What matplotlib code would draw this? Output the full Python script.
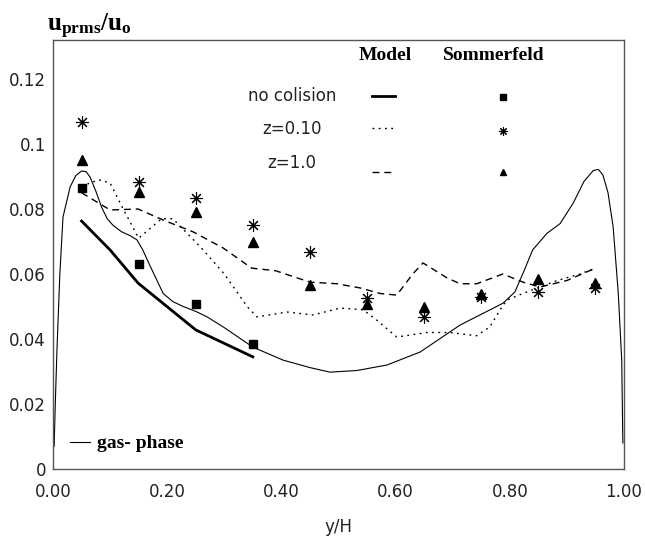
import matplotlib
matplotlib.use("Agg")
import matplotlib.pyplot as plt
from matplotlib.lines import Line2D

plt.rcParams['font.family'] = ['DejaVu Sans']
plt.rcParams['mathtext.fontset'] = 'custom'
plt.rcParams['mathtext.bf'] = 'Liberation Serif:bold'
plt.rcParams['mathtext.rm'] = 'Liberation Serif:bold'

# Sommerfeld measurements
x_meas = [0.05, 0.15, 0.25, 0.35, 0.45, 0.55, 0.65, 0.75, 0.85, 0.95]
sq_y = [0.0865, 0.063, 0.0508, 0.0385]
star_y = [0.1068, 0.0883, 0.0834, 0.075, 0.0668, 0.0526, 0.0468, 0.053, 0.0545, 0.0557]
tri_y = [0.0951, 0.0852, 0.079, 0.0698, 0.0566, 0.0508, 0.050, 0.054, 0.0585, 0.0572]

# model, no collision
nc_x = [0.05, 0.10, 0.149, 0.25, 0.35]
nc_y = [0.0763, 0.0674, 0.0572, 0.0428, 0.0345]

# model, z = 0.10
z1_x = [0.05, 0.08, 0.10, 0.12, 0.15, 0.19, 0.21, 0.26, 0.30, 0.34, 0.357, 0.41,
        0.455, 0.503, 0.543, 0.567, 0.602, 0.655, 0.695, 0.742, 0.765, 0.783,
        0.795, 0.823, 0.853, 0.883, 0.923, 0.95]
z1_y = [0.087, 0.089, 0.088, 0.081, 0.071, 0.077, 0.077, 0.068, 0.060, 0.050, 0.0468, 0.0483,
        0.0474, 0.0495, 0.049, 0.0458, 0.0406, 0.042, 0.042, 0.041, 0.0437, 0.049,
        0.052, 0.054, 0.056, 0.058, 0.060, 0.0618]

# model, z = 1.0
z2_x = [0.05, 0.10, 0.149, 0.193, 0.245, 0.298, 0.348, 0.39, 0.45, 0.497, 0.538,
        0.573, 0.602, 0.63, 0.648, 0.69, 0.713, 0.742, 0.788, 0.823, 0.853, 0.90, 0.95]
z2_y = [0.085, 0.0797, 0.080, 0.0766, 0.073, 0.068, 0.0618, 0.061, 0.0575, 0.057, 0.0557,
        0.054, 0.0535, 0.060, 0.0634, 0.0588, 0.057, 0.057, 0.060, 0.0575, 0.056, 0.058, 0.0618]

# gas phase
gas_x = [0.002, 0.004, 0.007, 0.012, 0.0175, 0.03, 0.04, 0.05, 0.058, 0.065, 0.075, 0.085,
         0.095, 0.105, 0.12, 0.135, 0.147, 0.157, 0.17, 0.193, 0.21, 0.228, 0.25, 0.27,
         0.30, 0.35, 0.403, 0.45, 0.485, 0.532, 0.585, 0.643, 0.713, 0.76, 0.788, 0.809,
         0.825, 0.84, 0.865, 0.888, 0.911, 0.93, 0.946, 0.955, 0.963, 0.972, 0.981,
         0.99, 0.996, 0.998]
gas_y = [0.007, 0.02, 0.037, 0.06, 0.0775, 0.0868, 0.0903, 0.0917, 0.0915, 0.0898, 0.0855, 0.0806,
         0.077, 0.075, 0.073, 0.0718, 0.0705, 0.0675, 0.0625, 0.054, 0.0515, 0.050, 0.0485, 0.0468,
         0.0435, 0.0375, 0.0335, 0.0312, 0.0298, 0.0303, 0.032, 0.036, 0.0443, 0.0485, 0.051, 0.0545,
         0.061, 0.0674, 0.0725, 0.0755, 0.0818, 0.0885, 0.0918, 0.0922, 0.0905, 0.085, 0.0745,
         0.054, 0.0335, 0.008]

xticks = [0.0, 0.2, 0.4, 0.6, 0.8, 1.0]
xtick_labels = ['0.00', '0.20', '0.40', '0.60', '0.80', '1.00']
yticks = [0, 0.02, 0.04, 0.06, 0.08, 0.1, 0.12]
ytick_labels = ['0', '0.02', '0.04', '0.06', '0.08', '0.1', '0.12']

fig = plt.figure(figsize=(6.45, 5.36), dpi=100)
ax = fig.add_axes([53 / 645, 67 / 536, 571 / 645, 429 / 536])

dot_style = (0, (1.3, 3.2))
dash_style = (0, (5, 3.5))

ax.plot(gas_x, gas_y, color='black', lw=0.8)
ax.plot(nc_x, nc_y, color='black', lw=2.0)
ax.plot(z1_x, z1_y, color='black', lw=1.0, ls=dot_style)
ax.plot(z2_x, z2_y, color='black', lw=1.0, ls=dash_style)

ax.plot(x_meas[:len(sq_y)], sq_y, ls='none', marker='s', ms=5.5, color='black')
ax.plot(x_meas, star_y, ls='none', marker=(8, 2, 0), ms=9, mew=0.8, color='black')
ax.plot(x_meas, tri_y, ls='none', marker='^', ms=7.5, color='black')

ax.set_xlim(0, 1)
ax.set_ylim(0, 0.132)
ax.set_xticks(xticks)
ax.set_xticklabels(xtick_labels)
ax.set_yticks(yticks)
ax.set_yticklabels(ytick_labels)
ax.tick_params(axis='both', length=0, labelsize=12, colors='#222222')
ax.tick_params(axis='x', pad=10)
ax.tick_params(axis='y', pad=5)
for s in ax.spines.values():
    s.set_color('#555555')
    s.set_linewidth(1.0)

ax.set_xlabel('y/H', fontsize=12, color='#222222', labelpad=12)
fig.text(47 / 645, 1 - 26 / 536, r'$\mathbf{u_{prms}/u_o}$', fontsize=18,
         ha='left', va='center')

# legend block
def ax_pt(px, py):
    return ((px - 53) / 571, (469 - py) / 429)

bold_serif = dict(family='Liberation Serif', weight='bold', fontsize=14)
ax.text(*ax_pt(385, 55), 'Model', ha='center', va='center',
        transform=ax.transAxes, **bold_serif)
ax.text(*ax_pt(494, 55), 'Sommerfeld', ha='center', va='center',
        transform=ax.transAxes, **bold_serif)

rows = [('no colision', 96, 96, 97, dict(lw=2.0, ls='-'), dict(marker='s', ms=4)),
        ('z=0.10', 129, 128, 131, dict(lw=1.0, ls=dot_style), dict(marker=(8, 2, 0), ms=6, mew=0.8)),
        ('z=1.0', 163, 172, 172, dict(lw=1.0, ls=dash_style), dict(marker='^', ms=5))]
for label, ty, ly, my, lkw, mkw in rows:
    ax.text(*ax_pt(292, ty), label, ha='center', va='center', fontsize=12,
            color='#222222', transform=ax.transAxes)
    x0, y0 = ax_pt(372, ly)
    x1, _ = ax_pt(395, ly)
    ax.add_line(Line2D([x0, x1], [y0, y0], color='black', transform=ax.transAxes, **lkw))
    mx, myy = ax_pt(503, my)
    ax.add_line(Line2D([mx], [myy], ls='none', color='black', transform=ax.transAxes, **mkw))

gx0, gy = ax_pt(70, 442)
gx1, _ = ax_pt(90, 442)
ax.add_line(Line2D([gx0, gx1], [gy, gy], color='black', lw=0.8, transform=ax.transAxes))
ax.text(*ax_pt(97, 443), 'gas- phase', ha='left', va='center',
        transform=ax.transAxes, **bold_serif)

fig.savefig('out.png', dpi=100)
